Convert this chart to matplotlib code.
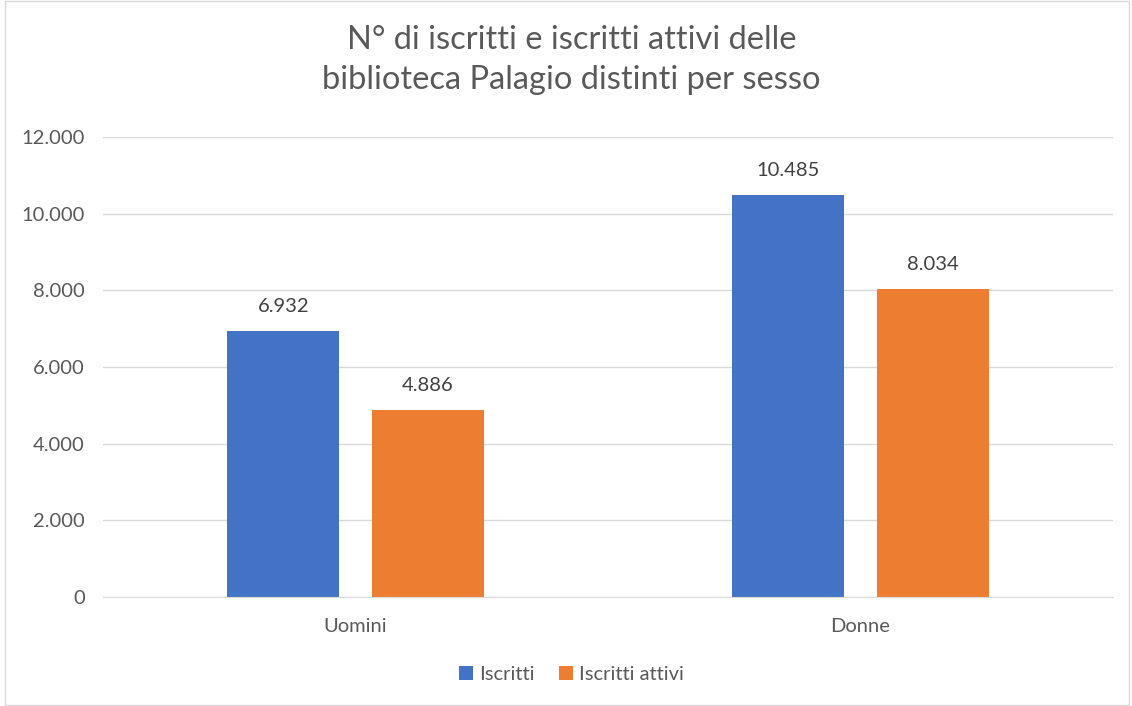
import matplotlib.pyplot as plt
import numpy as np
from matplotlib.patches import Rectangle

plt.rcParams.update({"font.family": ["Lato", "DejaVu Sans"]})

categorie = ['Uomini', 'Donne']
iscritti = [6932, 10485]
iscritti_attivi = [4886, 8034]
yticks = [0, 2000, 4000, 6000, 8000, 10000, 12000]

def fmt(v):
    return f'{v:,}'.replace(',', '.')

fig = plt.figure(figsize=(11.32, 7.06), dpi=100)
ax = fig.add_axes([0.091, 0.1544, 0.892, 0.6516])

x = np.arange(len(categorie))
w = 0.222
b1 = ax.bar(x - 0.1431, iscritti, w, color='#4472C4', label='Iscritti')
b2 = ax.bar(x + 0.1431, iscritti_attivi, w, color='#ED7D31', label='Iscritti attivi')

for bars, vals in [(b1, iscritti), (b2, iscritti_attivi)]:
    for r, v in zip(bars, vals):
        ax.text(r.get_x() + r.get_width() / 2, v + 420, fmt(v), ha='center', va='bottom',
                fontsize=14.5, color='#404040')

ax.set_xlim(-0.5, 1.5)
ax.set_ylim(0, 12000)
ax.set_yticks(yticks)
ax.set_yticklabels([fmt(t) for t in yticks])
ax.set_xticks(x)
ax.set_xticklabels(categorie)
ax.tick_params(axis='both', length=0, labelsize=14.5, labelcolor='#595959')
ax.tick_params(axis='y', pad=13)
ax.tick_params(axis='x', pad=15)
ax.grid(axis='y', color='#d9d9d9', linewidth=1)
ax.set_axisbelow(True)
for s in ['top', 'right', 'left']:
    ax.spines[s].set_visible(False)
ax.spines['bottom'].set_color('#d9d9d9')

fig.text(0.505, 0.915, 'N° di iscritti e iscritti attivi delle\nbiblioteca Palagio distinti per sesso',
         ha='center', va='center', fontsize=23.5, color='#595959', linespacing=1.42)

fig.legend(loc='center', bbox_to_anchor=(0.505, 0.044), ncol=2, frameon=False,
           fontsize=14.5, labelcolor='#595959', handlelength=0.7, handleheight=0.7,
           handletextpad=0.3, columnspacing=1.2)

fig.patches.append(Rectangle((0.004, 0.002), 0.993, 0.996, transform=fig.transFigure,
                             fill=False, edgecolor='#d9d9d9', linewidth=1))

plt.savefig('out.png', dpi=100)
